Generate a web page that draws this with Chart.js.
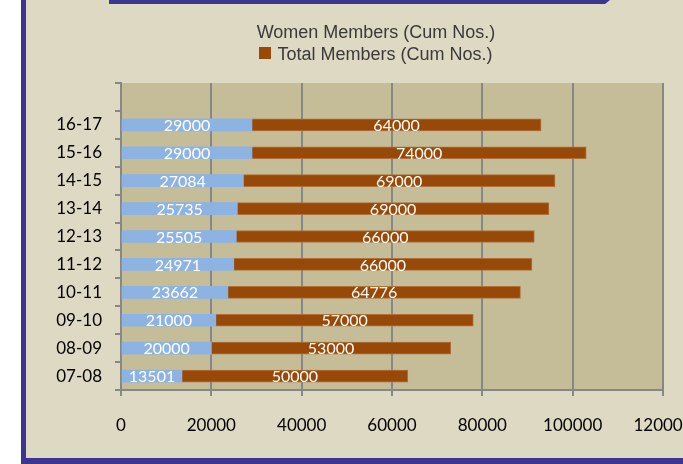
<!DOCTYPE html>
<html>
<head>
<meta charset="utf-8">
<script src="https://cdn.jsdelivr.net/npm/chart.js@4.4.1/dist/chart.umd.min.js"></script>
<style>
  html, body { margin: 0; padding: 0; width: 683px; height: 464px; overflow: hidden; background: #ffffff; }
  .frame { position: absolute; left: 21px; top: -20px; width: 700px; height: 484px; box-sizing: border-box;
           background: #DDD9C3; border-left: 5px solid #3D3592; border-bottom: 6px solid #3D3592; }
  .topbar { position: absolute; left: 109px; top: 0; width: 501px; height: 4px; background: #3D3592;
            clip-path: polygon(0 0, 100% 0, 99% 100%, 0 100%); }
  #chart { position: absolute; left: 0; top: 0; }
  .legend { position: absolute; left: 0; top: 21px; width: 752px; text-align: center;
            font-family: "Liberation Sans", Arial, sans-serif; font-size: 18px; line-height: 22px; color: #3a3a3a; }
  .box { display: inline-block; width: 12px; height: 12px; background: #984807; margin-right: 6px; position: relative; top: -1px; }
</style>
</head>
<body>
<div class="frame"></div>
<div class="topbar"></div>
<canvas id="chart" width="720" height="464"></canvas>
<div class="legend">
  <div id="leg1"></div>
  <div><span class="box"></span><span id="leg2"></span></div>
</div>
<script>
const categories = ["", "16-17", "15-16", "14-15", "13-14", "12-13", "11-12", "10-11", "09-10", "08-09", "07-08"];
const womenMembers = [null, 29000, 29000, 27084, 25735, 25505, 24971, 23662, 21000, 20000, 13501];
const totalMembers = [null, 64000, 74000, 69000, 69000, 66000, 66000, 64776, 57000, 53000, 50000];
const seriesNames = ["Women Members (Cum Nos.)", "Total Members (Cum Nos.)"];
const xTicks = [0, 20000, 40000, 60000, 80000, 100000, 120000];

document.getElementById('leg1').textContent = seriesNames[0];
document.getElementById('leg2').textContent = seriesNames[1];

Chart.defaults.font.family = 'Lato, "Open Sans", sans-serif';

const plotBg = {
  id: 'plotBg',
  beforeDraw(chart) {
    const { ctx, chartArea: a } = chart;
    ctx.save();
    ctx.fillStyle = '#C4BD97';
    ctx.fillRect(a.left, a.top, a.right - a.left, a.bottom - a.top);
    ctx.restore();
  }
};

const valueLabels = {
  id: 'valueLabels',
  afterDatasetsDraw(chart) {
    const { ctx } = chart;
    ctx.save();
    ctx.font = '16px Lato, "Open Sans", sans-serif';
    ctx.fillStyle = '#ffffff';
    ctx.textAlign = 'center';
    ctx.textBaseline = 'middle';
    chart.data.datasets.forEach((ds, di) => {
      const meta = chart.getDatasetMeta(di);
      meta.data.forEach((el, i) => {
        const v = ds.data[i];
        if (v === null || v === undefined) return;
        const cx = (el.x + el.base) / 2;
        ctx.fillText(String(v), cx, el.y + 1);
      });
    });
    ctx.restore();
  }
};

new Chart(document.getElementById('chart'), {
  type: 'bar',
  data: {
    labels: categories,
    datasets: [
      { label: seriesNames[0], data: womenMembers, backgroundColor: '#8DB3E2', borderWidth: 0, barThickness: 12 },
      { label: seriesNames[1], data: totalMembers, backgroundColor: '#984807', borderColor: '#B0703C', borderWidth: 1, borderSkipped: 'start', barThickness: 12 }
    ]
  },
  options: {
    indexAxis: 'y',
    responsive: false,
    animation: false,
    devicePixelRatio: 1,
    layout: { padding: { left: 0, top: 83, right: 57, bottom: 0 } },
    plugins: { legend: { display: false }, tooltip: { enabled: false } },
    scales: {
      x: {
        stacked: true,
        min: 0, max: 120000,
        afterBuildTicks(scale) { scale.ticks = xTicks.map(v => ({ value: v })); },
        afterFit(scale) { scale.height = 74; },
        ticks: { color: '#000000', font: { size: 17 }, padding: 19, maxRotation: 0, autoSkip: false,
                 callback: (v) => String(v) },
        grid: { color: '#878787', lineWidth: 2, tickLength: 6, drawOnChartArea: true },
        border: { display: true, color: '#878787', width: 2 }
      },
      y: {
        stacked: true,
        afterFit(scale) { scale.width = 121; },
        ticks: { color: '#000000', font: { size: 17 }, padding: 13 },
        grid: { color: '#878787', lineWidth: 2, tickLength: 6, drawOnChartArea: false, offset: true },
        border: { display: true, color: '#878787', width: 2 }
      }
    }
  },
  plugins: [plotBg, valueLabels]
});
</script>
</body>
</html>
